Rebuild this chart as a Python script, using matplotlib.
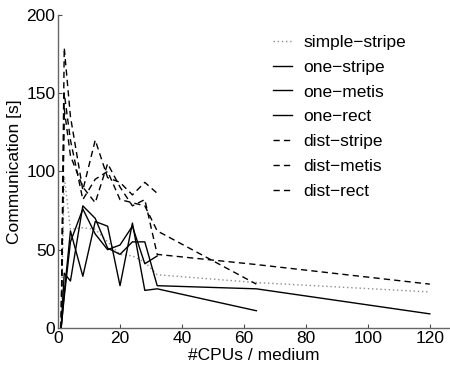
import numpy as np
from matplotlib import pyplot as plt

plt.rcParams['font.family'] = ['Liberation Sans', 'DejaVu Sans']
plt.rcParams['font.size'] = 12.5

# number of CPUs per medium
cpus = [1, 2, 4, 8, 12, 16, 20, 24, 28, 32, 64, 120]

simple_stripe = [0, 97, 63, 64, 63, 55, 47, 46, 42, 34, 29, 23]
one_stripe = [0, 22, 62, 33, 68, 65, 27, 67, 24, 25, 11]
one_metis = [0, 35, 30, 78, 70, 51, 47, 55, 55, 27, 25, 9]
one_rect = [0, 20, 55, 76, 60, 50, 53, 65, 41, 46]
dist_stripe = [0, 179, 135, 88, 120, 96, 93, 85, 93, 86]
dist_metis = [0, 150, 120, 82, 95, 100, 82, 80, 78, 62, 28]
dist_rect = [0, 140, 110, 90, 80, 105, 90, 78, 82, 47, 40.5, 28]

series = [
    ("simple\u2212stripe", simple_stripe, (0, (1, 2)), '0.55'),
    ("one\u2212stripe", one_stripe, '-', 'k'),
    ("one\u2212metis", one_metis, '-', 'k'),
    ("one\u2212rect", one_rect, '-', 'k'),
    ("dist\u2212stripe", dist_stripe, (0, (4.5, 3)), 'k'),
    ("dist\u2212metis", dist_metis, (0, (4.5, 3)), 'k'),
    ("dist\u2212rect", dist_rect, (0, (4.5, 3)), 'k'),
]

fig = plt.figure(figsize=(4.5, 3.71), dpi=100)
ax = fig.add_axes([0.129, 0.116, 0.871, 0.844])

for name, vals, ls, col in series:
    ax.plot(cpus[:len(vals)], vals, linestyle=ls, color=col, linewidth=1.0, label=name)

ax.set_xlim(0, 126.5)
ax.set_ylim(0, 200)
ax.set_xticks(np.arange(0, 121, 20))
ax.set_yticks(np.arange(0, 201, 50))
ax.tick_params(direction='in', length=3, colors='0.3', labelcolor='k', pad=2)
ax.spines['right'].set_visible(False)
ax.spines['top'].set_visible(False)
for s in ['left', 'bottom']:
    ax.spines[s].set_color('0.4')
    ax.spines[s].set_linewidth(1.0)

ax.set_xlabel("#CPUs / medium", labelpad=1.5)
ax.set_ylabel("Communication [s]", labelpad=3)

ax.legend(loc='upper left', bbox_to_anchor=(0.588, 0.93), bbox_transform=fig.transFigure,
          frameon=False, borderpad=0, handlelength=1.05, handletextpad=0.7, labelspacing=0.56)

fig.savefig("out.png", dpi=100)
